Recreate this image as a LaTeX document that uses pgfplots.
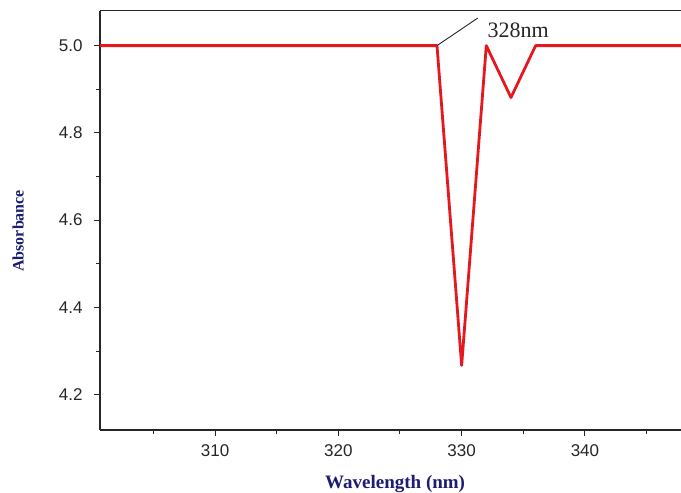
\documentclass[border=0pt]{standalone}
\usepackage{pgfplots}
\pgfplotsset{compat=1.18}
\usepackage{fontspec}
\setmainfont{Liberation Sans}
\newfontfamily\timesfont{Liberation Serif}
\definecolor{specred}{RGB}{228,24,30}
\definecolor{labelnavy}{RGB}{28,28,115}

\begin{document}
\begin{tikzpicture}
\begin{axis}[
    name=ax,
    scale only axis,
    width=581pt, height=419.3pt,
    xmin=300.67, xmax=347.79,
    ymin=4.119, ymax=5.080,
    axis lines=left,
    axis line style={-, line width=1.1pt, black!85},
    tick align=outside,
    major tick length=6pt,
    minor tick length=4pt,
    tick style={line width=1pt, black!85},
    xtick={310,320,330,340},
    minor xtick={305,315,325,335,345},
    ytick={4.2,4.4,4.6,4.8,5.0},
    minor ytick={4.3,4.5,4.7,4.9},
    ticklabel style={font=\fontsize{17}{20}\selectfont, text=black!85},
    /pgf/number format/assume math mode=true,
    yticklabel style={xshift=-8pt, /pgf/number format/.cd, fixed, fixed zerofill, precision=1},
    xticklabel style={yshift=-5pt, /pgf/number format/.cd, set thousands separator={}},
    xlabel={Wavelength (nm)},
    ylabel={Absorbance},
    every axis x label/.style={at={(axis description cs:0.508,-0.128)}, anchor=center,
        font=\timesfont\bfseries\fontsize{19}{22}\selectfont, text=labelnavy},
    every axis y label/.style={at={(axis description cs:-0.141,0.475)}, anchor=center, rotate=90,
        font=\timesfont\bfseries\fontsize{16}{19}\selectfont, text=labelnavy},
]
\addplot[specred, line width=2.8pt, line join=round] coordinates {
    (300,5.0) (310,5.0) (320,5.0) (328,5.0) (330,4.267) (332,5.0)
    (334,4.881) (336,5.0) (340,5.0) (350,5.0)
};
\draw[black!85, line width=0.9pt] (axis cs:328,5.0) -- (axis cs:331.3,5.063);
\node[anchor=base west, inner sep=0pt, font=\timesfont\fontsize{22}{26}\selectfont, text=black!85]
    at (axis cs:332.1,5.019) {328nm};
\end{axis}
\draw[line width=1.1pt, black!85] (ax.north west) -- (ax.north east);
\pgfresetboundingbox
\path[use as bounding box] ([xshift=-100pt,yshift=-62pt]ax.south west) rectangle ([yshift=10.7pt]ax.north east);
\end{tikzpicture}
\end{document}
